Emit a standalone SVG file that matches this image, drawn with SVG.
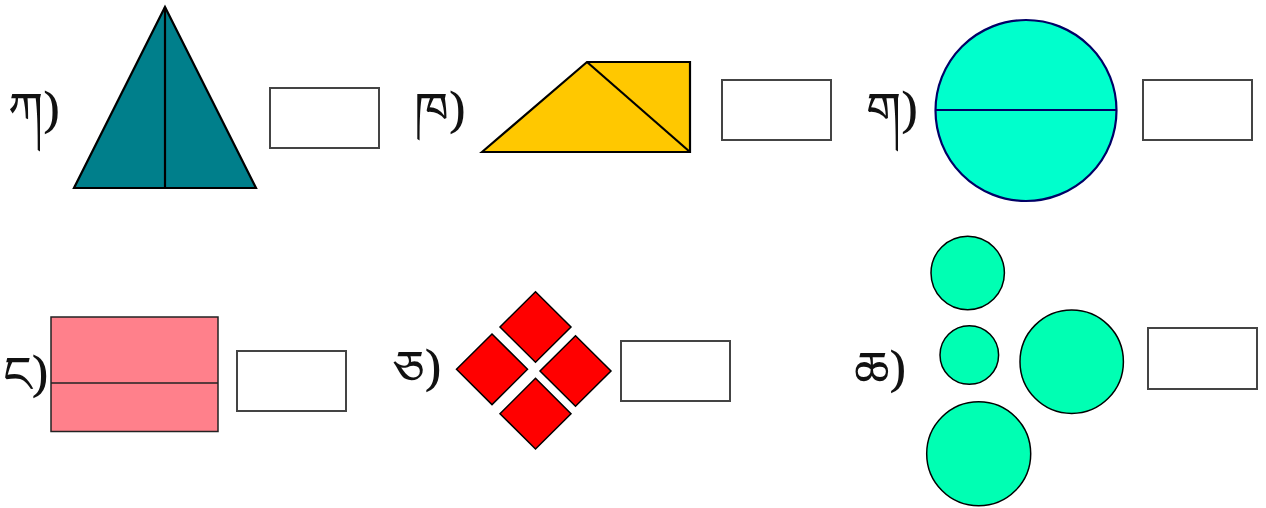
<svg xmlns="http://www.w3.org/2000/svg" width="1266" height="508" viewBox="0 0 1266 508">
<style>
.lbl{font-family:"Noto Serif Tibetan","Noto Sans Tibetan","Jomolhari","Microsoft Himalaya","DejaVu Sans",sans-serif;font-size:50px;fill:#111;}
.box{fill:#fff;stroke:#444;stroke-width:2;}
.sh{stroke:#000;stroke-width:2.2;stroke-linejoin:miter;}
</style>
<rect width="1266" height="508" fill="#fff"/>
<g id="q1">
<text class="lbl" x="8" y="128">ཀ)</text>
<polygon class="sh" points="165,7 256,188 74,188" fill="#007F8B"/>
<line class="sh" x1="165" y1="7" x2="165" y2="188"/>
<rect class="box" x="270" y="88" width="109" height="60"/>
</g>
<g id="q2">
<text class="lbl" x="414" y="128">ཁ)</text>
<polygon class="sh" points="482,152 587,62 690,62 690,152" fill="#FFC800"/>
<line class="sh" x1="587" y1="62" x2="690" y2="152"/>
<rect class="box" x="722" y="80" width="109" height="60"/>
</g>
<g id="q3">
<text class="lbl" x="866" y="128">ག)</text>
<circle cx="1026" cy="110.5" r="90.5" fill="#00FFCC" stroke="#000066" stroke-width="2.2"/>
<line x1="935.5" y1="110" x2="1116.5" y2="110" stroke="#000066" stroke-width="2.2"/>
<rect class="box" x="1143" y="80" width="109" height="60"/>
</g>
<g id="q4">
<text class="lbl" x="3" y="392">ང)</text>
<rect x="51" y="317" width="167" height="114.5" fill="#FF808B" stroke="#222" stroke-width="1.5"/>
<line x1="51" y1="383" x2="218" y2="383" stroke="#222" stroke-width="1.5"/>
<rect class="box" x="237" y="351" width="109" height="60"/>
</g>
<g id="q5">
<text class="lbl" x="393" y="386">ཅ)</text>
<g fill="#FF0000" stroke="#000" stroke-width="1.5">
<polygon points="535.5,291.7 571,327 535.5,362.3 500,327"/>
<polygon points="492,334 527.5,369.3 492,404.6 456.5,369.3"/>
<polygon points="575.5,335.7 611,371 575.5,406.3 540,371"/>
<polygon points="535.5,378.3 571,413.7 535.5,449 500,413.7"/>
</g>
<rect class="box" x="621" y="341" width="109" height="60"/>
</g>
<g id="q6">
<text class="lbl" x="854" y="387">ཆ)</text>
<g fill="#00FFB3" stroke="#000" stroke-width="1.5">
<circle cx="967.7" cy="273" r="36.7"/>
<circle cx="969.3" cy="355" r="29.3"/>
<circle cx="1071.7" cy="361.7" r="51.7"/>
<circle cx="978.7" cy="453.8" r="52"/>
</g>
<rect class="box" x="1148" y="328" width="109" height="61"/>
</g>
</svg>
